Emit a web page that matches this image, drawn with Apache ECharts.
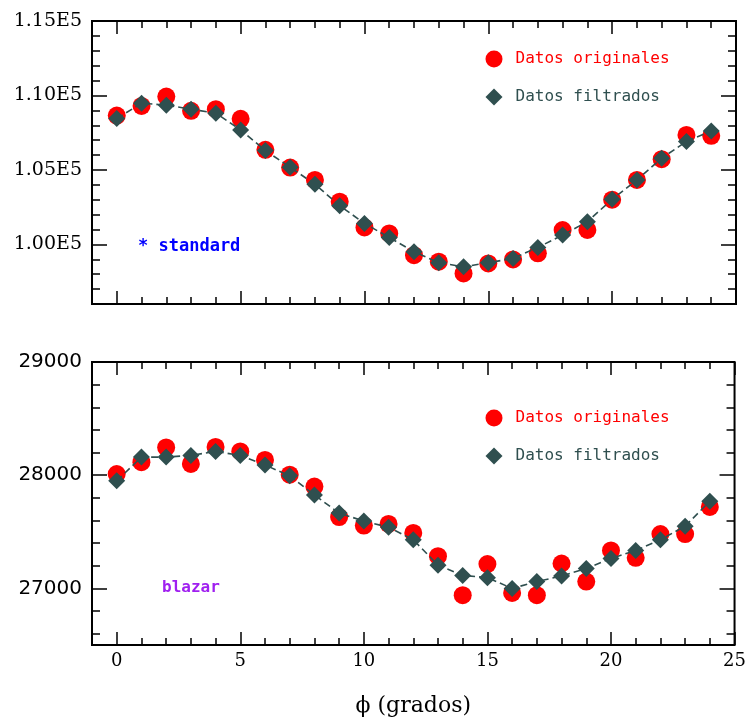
<!DOCTYPE html>
<html>
<head>
<meta charset="utf-8">
<script src="https://cdn.jsdelivr.net/npm/echarts@6/dist/echarts.min.js"></script>
<style>
html,body{margin:0;padding:0;background:#fff;}
#chart{width:749px;height:720px;}
</style>
</head>
<body>
<div id="chart"></div>
<script>
// ---- data ----
const phi = [0,1,2,3,4,5,6,7,8,9,10,11,12,13,14,15,16,17,18,19,20,21,22,23,24];
const topOriginal = [108650,109300,109930,108970,109080,108430,106350,105160,104330,102870,101140,100740,99280,98840,98050,98720,98990,99400,100960,100970,103000,104330,105720,107350,107290];
const topFiltered = [108450,109480,109350,109080,108810,107690,106300,105180,104040,102600,101410,100470,99510,98770,98500,98770,99060,99800,100630,101530,103030,104330,105790,106910,107620];
const botOriginal = [28010,28115,28245,28100,28250,28210,28135,28005,27900,27630,27555,27570,27490,27285,26940,27215,26960,26940,27220,27060,27335,27270,27480,27480,27720];
const botFiltered = [27950,28160,28160,28175,28210,28175,28090,27995,27825,27665,27595,27540,27430,27205,27115,27095,27000,27060,27110,27175,27265,27335,27430,27550,27770];

const xMajorTicks = [0,5,10,15,20,25];
const xTickLabels = ['0','5','10','15','20','25'];
const topMajorTicks = [100000,105000,110000,115000];
const topTickLabels = ['1.00E5','1.05E5','1.10E5','1.15E5'];
const botMajorTicks = [27000,28000,29000];
const botTickLabels = ['27000','28000','29000'];

const seriesNames = ['Datos originales','Datos filtrados'];
const xTitle = '\u03d5 (grados)';
const topNote = '* standard';
const botNote = 'blazar';

// ---- ranges / tick steps ----
const X_RANGE = [-1, 25], X_MINOR = 1;
const TOP_RANGE = [96000, 115000], TOP_MINOR = 1000;
const BOT_RANGE = [26500, 29000], BOT_MINOR = 200;

function steps(lo, hi, st){ const a=[]; for(let v=Math.ceil(lo/st)*st; v<=hi+1e-9; v+=st) a.push(v); return a; }

const RED = '#ff0000', DSG = '#2f4f4f';
const serifF = 'DejaVu Serif', sansF = 'DejaVu Sans', monoF = 'DejaVu Sans Mono';

function xAxes(grid, withLabels){
  const base = {type:'value', gridIndex:grid, min:X_RANGE[0], max:X_RANGE[1], splitLine:{show:false},
    axisLine:{show:false, onZero:false}};
  return [
    Object.assign({}, base, {position:'bottom',
      axisTick:{inside:true, length:13, customValues:xMajorTicks, lineStyle:{color:'#000', width:1.5}},
      axisLabel:{show:withLabels, customValues:xMajorTicks, margin:7, color:'#000', fontFamily:serifF, fontSize:18,
        formatter:v=>xTickLabels[xMajorTicks.indexOf(v)]},
      name: withLabels ? xTitle : '', nameLocation:'middle', nameGap:50,
      nameTextStyle:{fontFamily:serifF, fontSize:22, color:'#000'}}),
    Object.assign({}, base, {position:'bottom',
      axisTick:{inside:true, length:7, customValues:steps(X_RANGE[0],X_RANGE[1],X_MINOR), lineStyle:{color:'#000', width:1.5}},
      axisLabel:{show:false}}),
    Object.assign({}, base, {position:'top',
      axisTick:{inside:true, length:13, customValues:xMajorTicks, lineStyle:{color:'#000', width:1.5}},
      axisLabel:{show:false}}),
    Object.assign({}, base, {position:'top',
      axisTick:{inside:true, length:7, customValues:steps(X_RANGE[0],X_RANGE[1],X_MINOR), lineStyle:{color:'#000', width:1.5}},
      axisLabel:{show:false}})
  ];
}
function yAxes(grid, range, minor, majors, labels, font, fsize){
  const base = {type:'value', gridIndex:grid, min:range[0], max:range[1], splitLine:{show:false},
    axisLine:{show:false, onZero:false}};
  return [
    Object.assign({}, base, {position:'left',
      axisTick:{inside:true, length:15, customValues:majors, lineStyle:{color:'#000', width:1.5}},
      axisLabel:{customValues:majors, margin:10, color:'#000', fontFamily:font, fontSize:fsize,
        formatter:v=>labels[majors.indexOf(v)]}}),
    Object.assign({}, base, {position:'left',
      axisTick:{inside:true, length:8, customValues:steps(range[0],range[1],minor), lineStyle:{color:'#000', width:1.5}},
      axisLabel:{show:false}}),
    Object.assign({}, base, {position:'right',
      axisTick:{inside:true, length:15, customValues:majors, lineStyle:{color:'#000', width:1.5}},
      axisLabel:{show:false}}),
    Object.assign({}, base, {position:'right',
      axisTick:{inside:true, length:8, customValues:steps(range[0],range[1],minor), lineStyle:{color:'#000', width:1.5}},
      axisLabel:{show:false}})
  ];
}

function pairs(ys){ return phi.map((p,i)=>[p, ys[i]]); }

function panelSeries(axisIdx, orig, filt){
  return [
    {type:'scatter', name:seriesNames[0], xAxisIndex:axisIdx, yAxisIndex:axisIdx, data:pairs(orig),
      symbol:'circle', symbolSize:18, itemStyle:{color:RED, opacity:1}, z:2},
    {type:'line', name:seriesNames[1], xAxisIndex:axisIdx, yAxisIndex:axisIdx, data:pairs(filt),
      symbol:'diamond', symbolSize:17, showSymbol:true, itemStyle:{color:DSG, opacity:1},
      lineStyle:{color:DSG, width:1.6, type:[7,4]}, z:3}
  ];
}

function legendAt(top){
  return {left:480.5, top:top, orient:'vertical', itemWidth:17, itemHeight:17, itemGap:21,
    selectedMode:false,
    textStyle:{fontFamily:monoF, fontSize:16, padding:[0,0,0,8]},
    data:[{name:seriesNames[0], icon:'circle', textStyle:{color:RED}},
          {name:seriesNames[1], icon:'diamond', textStyle:{color:DSG}}]};
}

const chart = echarts.init(document.getElementById('chart'), null, {renderer:'canvas'});
chart.setOption({
  animation:false,
  backgroundColor:'#fff',
  grid:[
    {left:92, right:13, top:21, height:283, show:true, borderColor:'#000', borderWidth:2, backgroundColor:'transparent'},
    {left:92, right:13, top:362, height:283, show:true, borderColor:'#000', borderWidth:2, backgroundColor:'transparent'}
  ],
  xAxis: xAxes(0,false).concat(xAxes(1,true)),
  yAxis: yAxes(0, TOP_RANGE, TOP_MINOR, topMajorTicks, topTickLabels, serifF, 19)
          .concat(yAxes(1, BOT_RANGE, BOT_MINOR, botMajorTicks, botTickLabels, sansF, 20)),
  legend:[legendAt(45.5), legendAt(404.5)],
  series: panelSeries(0, topOriginal, topFiltered).concat(panelSeries(4, botOriginal, botFiltered)),
  graphic:[
    {type:'text', left:138, top:238, style:{text:topNote, fill:'#0000ff', font:'bold 17px "DejaVu Sans Mono"'}},
    {type:'text', left:162, top:580, style:{text:botNote, fill:'#a020f0', font:'bold 16px "DejaVu Sans Mono"'}}
  ]
});
</script>
</body>
</html>
